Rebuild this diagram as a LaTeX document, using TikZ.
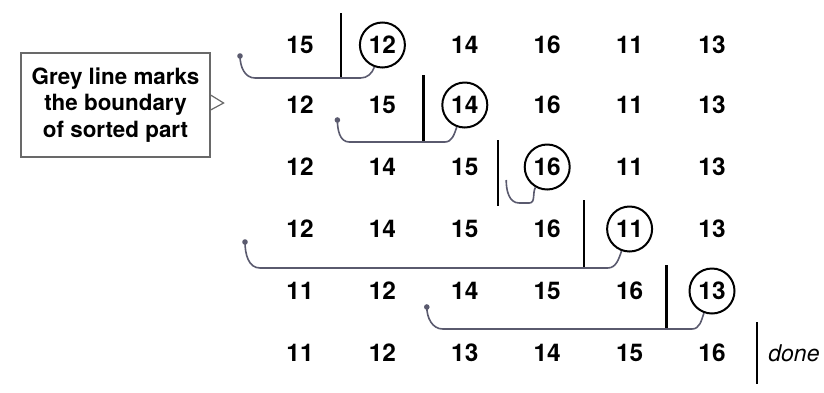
\documentclass[tikz,border=0pt]{standalone}
\usepackage{fontspec}
\setmainfont{TeX Gyre Heros}
\usetikzlibrary{calc}
\definecolor{cCurve}{RGB}{90,90,110}
\definecolor{cFrame}{RGB}{105,105,105}
\tikzset{
	num/.style     ={font=\bfseries\fontsize{12.2}{14}\selectfont, inner sep=0pt},
	keynum/.style  ={num, circle, draw=black, line width=1pt, minimum size=22.5pt},
	bound/.style   ={line width=1.2pt},
	insline/.style ={draw=cCurve, line width=0.8pt},
	insdot/.style  ={circle, fill=cCurve, inner sep=0pt, minimum size=2.8pt},
	note/.style    ={rectangle, draw=cFrame, line width=0.6pt, minimum width=94.5pt, minimum height=52pt, align=center, font=\bfseries\fontsize{11.2}{13.2}\selectfont},
}
\begin{document}
\begin{tikzpicture}[x=0.5pt, y=-0.5pt]
	\useasboundingbox (0,0) rectangle (824,392);
	% rows of the array, circled entry is the key being inserted
	\foreach \v/\s [count=\c] in {15/num,12/keynum,14/num,16/num,11/num,13/num}
		\node[\s] (r1c\c) at (217.6+82.4*\c, 45) {\v};
	\foreach \v/\s [count=\c] in {12/num,15/num,14/keynum,16/num,11/num,13/num}
		\node[\s] (r2c\c) at (217.6+82.4*\c, 105) {\v};
	\foreach \v/\s [count=\c] in {12/num,14/num,15/num,16/keynum,11/num,13/num}
		\node[\s] (r3c\c) at (217.6+82.4*\c, 167) {\v};
	\foreach \v/\s [count=\c] in {12/num,14/num,15/num,16/num,11/keynum,13/num}
		\node[\s] (r4c\c) at (217.6+82.4*\c, 229) {\v};
	\foreach \v/\s [count=\c] in {11/num,12/num,14/num,15/num,16/num,13/keynum}
		\node[\s] (r5c\c) at (217.6+82.4*\c, 291) {\v};
	\foreach \v/\s [count=\c] in {11/num,12/num,13/num,14/num,15/num,16/num}
		\node[\s] (r6c\c) at (217.6+82.4*\c, 353) {\v};
	% boundary of the sorted part
	\draw[bound] ($(r1c1)!0.5!(r1c2)$) ++(0,-32) -- ++(0,65);
	\draw[bound] ($(r2c2)!0.5!(r2c3)$) ++(0,-30) -- ++(0,67);
	\draw[bound] ($(r3c3)!0.4!(r3c4)$) ++(0,-27) -- ++(0,66);
	\draw[bound] ($(r4c4)!0.45!(r4c5)$) ++(0,-29) -- ++(0,68);
	\draw[bound] ($(r5c5)!0.45!(r5c6)$) ++(0,-26) -- ++(0,65);
	\draw[bound] ($(r6c6)+(45,-31)$) coordinate (endtop) -- ++(0,62);
	\node[font=\itshape\fontsize{11.5}{13}\selectfont, anchor=west, inner sep=0pt] (done) at ($(r6c6)+(56,0)$) {done};
	% where each key goes
	\draw[insline] (r1c2.250) to[out=-110,in=0] ($(r1c2)+(-22,33)$) -- ($(r1c1)+(-45,33)$)
		to[out=180,in=-90] ($(r1c1)+(-60,11)$) node[insdot] (d1) {};
	\draw[insline] (r2c3.250) to[out=-110,in=0] ($(r2c3)+(-20,37)$) -- ($(r2c2)+(-33,37)$)
		to[out=180,in=-90] ($(r2c2)+(-45,15)$) node[insdot] (d2) {};
	\draw[insline] (r3c4.240) to[out=-120,in=0] ($(r3c4)+(-18,36)$) -- ($(r3c4)+(-28,36)$)
		to[out=180,in=-90] ($(r3c4)+(-41,13)$);
	\draw[insline] (r4c5.250) to[out=-110,in=0] ($(r4c5)+(-22,39)$) -- ($(r4c1)+(-40,39)$)
		to[out=180,in=-90] ($(r4c1)+(-55,13)$) node[insdot] (d4) {};
	\draw[insline] (r5c6.250) to[out=-110,in=0] ($(r5c6)+(-20,38)$) -- ($(r5c3)+(-22,38)$)
		to[out=180,in=-90] ($(r5c3)+(-38,16)$) node[insdot] (d5) {};
	% callout
	\node[note] (note) at (115.5,105) {Grey line marks\\the boundary\\of sorted part};
	\draw[draw=cFrame, line width=0.6pt] ($(note.east)+(0,-10)$) -- ++(13,8) -- ++(-13,7);
\end{tikzpicture}
\end{document}
